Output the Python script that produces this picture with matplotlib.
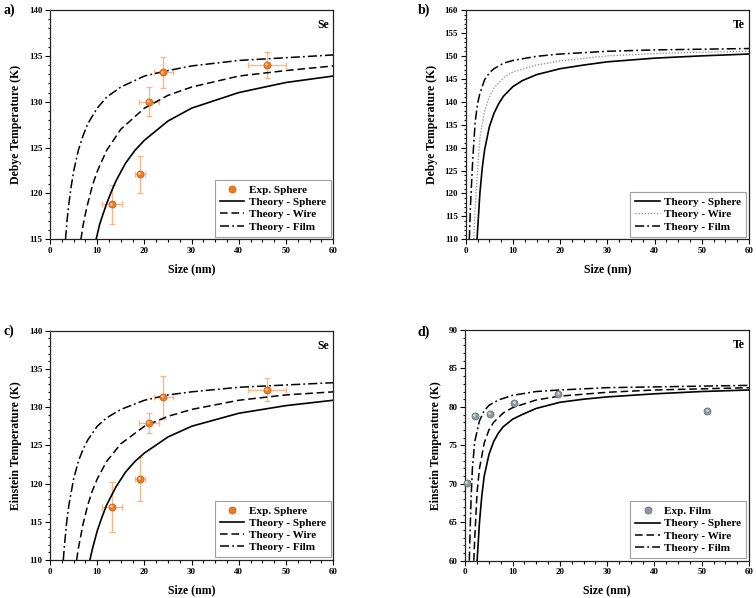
import matplotlib
matplotlib.use("Agg")
import matplotlib.pyplot as plt
from matplotlib.ticker import MultipleLocator
from matplotlib.transforms import ScaledTranslation

plt.rcParams['font.family'] = ['Liberation Serif', 'DejaVu Serif']
plt.rcParams['font.weight'] = 'bold'
plt.rcParams['axes.labelweight'] = 'bold'

# ---- a) Se Debye temperature ----
se_d_sphere_x = [9.77, 10, 10.5, 11, 12, 13, 14, 16, 18, 20, 25, 30, 40, 50, 60]
se_d_sphere_y = [115.0, 115.5, 116.6, 117.4, 118.9, 120.2, 121.4, 123.3, 124.7, 125.8, 127.9, 129.3, 131.0, 132.1, 132.8]
se_d_wire_x = [6.55, 7, 7.5, 8, 9, 10, 12, 15, 20, 25, 30, 40, 50, 60]
se_d_wire_y = [115.0, 116.5, 117.8, 118.9, 120.9, 122.4, 124.7, 127.0, 129.3, 130.7, 131.6, 132.8, 133.4, 133.9]
se_d_film_x = [3.28, 3.6, 4, 4.5, 5, 6, 7, 8, 10, 12, 15, 20, 25, 30, 40, 50, 60]
se_d_film_y = [115.0, 117.0, 118.9, 120.8, 122.4, 124.7, 126.3, 127.6, 129.3, 130.5, 131.6, 132.8, 133.4, 133.9, 134.5, 134.8, 135.1]

se_exp_size = [13.1, 19.1, 21.0, 24.0, 46.0]
se_exp_size_err = [2.1, 1.1, 2.1, 2.0, 4.0]
se_exp_debye = [118.8, 122.1, 130.0, 133.2, 134.0]
se_exp_debye_err = [2.1, 2.0, 1.6, 1.65, 1.4]

# ---- b) Te Debye temperature ----
te_d_sphere_x = [2.4, 3, 3.5, 4, 5, 6, 7, 8, 10, 12, 15, 20, 25, 30, 40, 50, 60]
te_d_sphere_y = [110.0, 120.0, 125.5, 129.5, 134.5, 137.5, 139.6, 141.2, 143.3, 144.6, 145.9, 147.2, 148.0, 148.7, 149.5, 150.0, 150.4]
te_d_wire_x = [1.7, 2, 2.5, 3, 4, 5, 6, 8, 10, 15, 20, 30, 40, 50, 60]
te_d_wire_y = [110.0, 116.5, 125.0, 132.0, 138.0, 141.0, 143.0, 145.2, 146.5, 148.0, 148.9, 150.0, 150.5, 150.8, 151.0]
te_d_film_x = [0.77, 1, 1.33, 1.5, 2, 2.5, 3, 4, 5, 6, 8, 10, 15, 20, 30, 40, 60]
te_d_film_y = [110.0, 117.0, 124.1, 127.5, 135.5, 139.5, 141.8, 144.8, 146.3, 147.2, 148.4, 149.0, 149.9, 150.4, 151.0, 151.3, 151.6]

# ---- c) Se Einstein temperature ----
se_e_sphere_x = [8.45, 9, 10, 11, 12, 14, 16, 18, 20, 25, 30, 40, 50, 60]
se_e_sphere_y = [110.0, 111.5, 113.8, 115.6, 117.2, 119.6, 121.5, 122.9, 124.0, 126.1, 127.5, 129.2, 130.2, 130.9]
se_e_wire_x = [5.64, 6, 7, 8, 9, 10, 12, 15, 20, 25, 30, 40, 50, 60]
se_e_wire_y = [110.0, 111.5, 114.7, 117.2, 119.1, 120.6, 122.9, 125.2, 127.5, 128.8, 129.7, 130.9, 131.6, 132.0]
se_e_film_x = [2.82, 3, 3.5, 4, 5, 6, 7, 8, 10, 12, 15, 20, 25, 30, 40, 50, 60]
se_e_film_y = [110.0, 111.5, 114.8, 117.2, 120.6, 122.9, 124.5, 125.7, 127.5, 128.6, 129.7, 130.9, 131.6, 132.0, 132.6, 132.9, 133.2]

se_exp_einstein = [116.9, 120.6, 127.9, 131.3, 132.3]
se_exp_einstein_err = [3.3, 2.85, 1.3, 2.8, 1.5]

# ---- d) Te Einstein temperature ----
te_e_sphere_x = [2.5, 3, 3.5, 4, 5, 6, 7, 8, 10, 12, 15, 20, 25, 30, 40, 50, 60]
te_e_sphere_y = [60.0, 65.0, 68.5, 71.0, 73.8, 75.5, 76.6, 77.4, 78.4, 79.0, 79.8, 80.6, 81.0, 81.3, 81.7, 82.0, 82.2]
te_e_wire_x = [1.8, 2, 2.5, 3, 4, 5, 6, 8, 10, 15, 20, 30, 40, 60]
te_e_wire_y = [60.0, 63.0, 69.0, 72.0, 75.3, 77.0, 78.0, 79.2, 79.9, 80.9, 81.4, 81.9, 82.2, 82.5]
te_e_film_x = [0.85, 1, 1.25, 1.5, 2, 3, 4, 5, 7, 10, 15, 20, 30, 40, 60]
te_e_film_y = [60.0, 63.5, 68.5, 72.0, 75.5, 78.2, 79.5, 80.2, 80.9, 81.5, 82.0, 82.2, 82.5, 82.6, 82.8]

te_exp_film_size = [0.4, 2.0, 5.15, 10.4, 19.7, 51.2]
te_exp_film_einstein = [70.1, 78.8, 79.1, 80.5, 81.7, 79.5]

W, H = 756, 598
fig = plt.figure(figsize=(W / 100, H / 100), dpi=100)


def make_axes(left, top, right, bottom):
    return fig.add_axes([left / W, 1 - bottom / H, (right - left) / W, (bottom - top) / H])


def style(ax, ylim, ylabel, elem, tag, tag_xy):
    ax.set_xlim(0, 60)
    ax.set_ylim(*ylim)
    ax.xaxis.set_major_locator(MultipleLocator(10))
    ax.xaxis.set_minor_locator(MultipleLocator(2.5))
    ax.yaxis.set_major_locator(MultipleLocator(5))
    ax.yaxis.set_minor_locator(MultipleLocator(1))
    ax.tick_params(which='both', direction='out', top=False, right=False, labelsize=6.5, width=0.8)
    ax.tick_params(which='major', length=3.5, pad=2)
    ax.tick_params(which='minor', length=1.8)
    for s in ax.spines.values():
        s.set_linewidth(0.9)
        s.set_color('#222222')
    ax.set_xlabel('Size (nm)', fontsize=8.5, labelpad=6)
    ax.set_ylabel(ylabel, fontsize=8.5, labelpad=5)
    ax.text(0.985, 0.96, elem, transform=ax.transAxes, ha='right', va='top', fontsize=8.5, fontweight='bold')
    fig.text(tag_xy[0] / W, 1 - tag_xy[1] / H, tag, fontsize=10, fontweight='bold', ha='left', va='center')


def theory(ax, sx, sy, wx, wy, fx, fy, wire_dotted=False):
    ax.plot(sx, sy, color='black', lw=1.2, label='Theory - Sphere')
    if wire_dotted:
        ax.plot(wx, wy, color='#9a9a9a', lw=1.0, ls=(0, (1, 1.2)), label='Theory - Wire')
    else:
        ax.plot(wx, wy, color='black', lw=1.1, ls=(0, (5, 2.5)), label='Theory - Wire')
    ax.plot(fx, fy, color='black', lw=1.1, ls=(0, (6, 2, 1.2, 2)), label='Theory - Film')


def spheres(ax, x, y, face, edge, light, label):
    ax.plot(x, y, 'o', ms=5, mfc=face, mec=edge, mew=0.6, label=label, zorder=3, clip_on=False)
    shift = ax.transData + ScaledTranslation(-0.6 / 72, 0.6 / 72, fig.dpi_scale_trans)
    ax.plot(x, y, 'o', ms=1.8, mfc=light, mec='none', transform=shift, zorder=4, clip_on=False)


def legend(ax):
    leg = ax.legend(loc='lower right', fontsize=8, frameon=True, fancybox=False,
                    edgecolor='#888888', handlelength=2.2, borderaxespad=0.25,
                    labelspacing=0.22, handletextpad=0.4, borderpad=0.45)
    leg.get_frame().set_linewidth(0.8)


orange = '#f07a22'
err_orange = '#f7b98c'

# a)
ax = make_axes(50, 10, 333.3, 239.3)
ax.errorbar(se_exp_size, se_exp_debye, xerr=se_exp_size_err, yerr=se_exp_debye_err, fmt='none',
            ecolor=err_orange, elinewidth=1.0, capsize=2, capthick=1.0, zorder=2)
spheres(ax, se_exp_size, se_exp_debye, orange, '#d0621a', '#ffd3ad', 'Exp. Sphere')
theory(ax, se_d_sphere_x, se_d_sphere_y, se_d_wire_x, se_d_wire_y, se_d_film_x, se_d_film_y)
style(ax, (115, 140), 'Debye Temperature (K)', 'Se', 'a)', (3, 10))
legend(ax)

# b)
ax = make_axes(465.7, 10, 749, 239.3)
theory(ax, te_d_sphere_x, te_d_sphere_y, te_d_wire_x, te_d_wire_y, te_d_film_x, te_d_film_y, wire_dotted=True)
style(ax, (110, 160), 'Debye Temperature (K)', 'Te', 'b)', (418, 10))
legend(ax)

# c)
ax = make_axes(50, 330.7, 333.3, 560)
ax.errorbar(se_exp_size, se_exp_einstein, xerr=se_exp_size_err, yerr=se_exp_einstein_err, fmt='none',
            ecolor=err_orange, elinewidth=1.0, capsize=2, capthick=1.0, zorder=2)
spheres(ax, se_exp_size, se_exp_einstein, orange, '#d0621a', '#ffd3ad', 'Exp. Sphere')
theory(ax, se_e_sphere_x, se_e_sphere_y, se_e_wire_x, se_e_wire_y, se_e_film_x, se_e_film_y)
style(ax, (110, 140), 'Einstein Temperature (K)', 'Se', 'c)', (3, 331))
legend(ax)

# d)
ax = make_axes(465.3, 330, 749, 560.7)
spheres(ax, te_exp_film_size, te_exp_film_einstein, '#8d999f', '#66737a', '#dde3e6', 'Exp. Film')
theory(ax, te_e_sphere_x, te_e_sphere_y, te_e_wire_x, te_e_wire_y, te_e_film_x, te_e_film_y)
style(ax, (60, 90), 'Einstein Temperature (K)', 'Te', 'd)', (418, 332))
legend(ax)

fig.savefig('out.png', dpi=100)
